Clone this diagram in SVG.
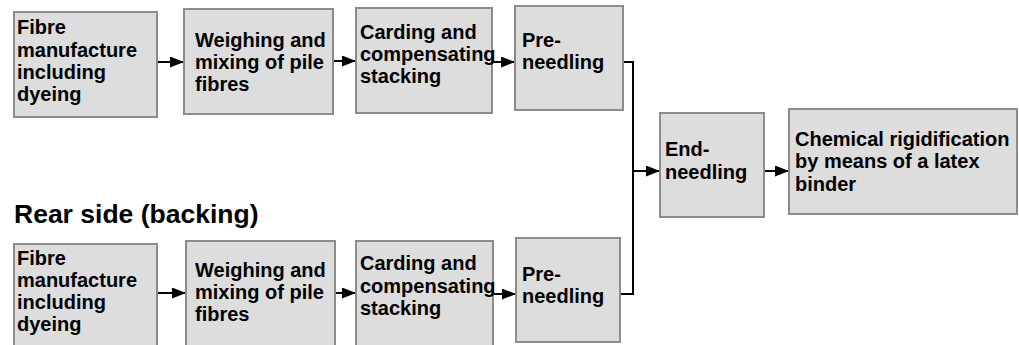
<svg xmlns="http://www.w3.org/2000/svg" width="1019" height="345" viewBox="0 0 1019 345">
<defs>
<style>
.box{fill:#dddddd;stroke:#8c8c8c;stroke-width:2}
.t{font-family:"Liberation Sans",Arial,sans-serif;font-weight:bold;font-size:20px;fill:#000}
.h{font-family:"Liberation Sans",Arial,sans-serif;font-weight:bold;font-size:26.5px;fill:#000}
.c{stroke:#000;stroke-width:2;fill:none}
</style>
<marker id="ah" viewBox="0 0 14 11" refX="14" refY="5.5" markerWidth="14" markerHeight="11" markerUnits="userSpaceOnUse" orient="auto">
<path d="M0,0 L14,5.5 L0,11 z" fill="#000"/>
</marker>
</defs>
<rect width="1019" height="345" fill="#fff"/>
<g id="connectors">
<line class="c" x1="157" y1="62" x2="184" y2="62" marker-end="url(#ah)"/>
<line class="c" x1="333" y1="61" x2="356" y2="61" marker-end="url(#ah)"/>
<line class="c" x1="492" y1="62" x2="515" y2="62" marker-end="url(#ah)"/>
<polyline class="c" points="623,62 633,62 633,294 620,294"/>
<line class="c" x1="633" y1="171" x2="660" y2="171" marker-end="url(#ah)"/>
<line class="c" x1="764" y1="171" x2="789" y2="171" marker-end="url(#ah)"/>
<line class="c" x1="157" y1="293" x2="186" y2="293" marker-end="url(#ah)"/>
<line class="c" x1="335" y1="293" x2="356" y2="293" marker-end="url(#ah)"/>
<line class="c" x1="493" y1="294" x2="516" y2="294" marker-end="url(#ah)"/>
</g>
<g id="top1"><rect class="box" x="14" y="12" width="143" height="105"/>
<text class="t" x="17" y="34">Fibre</text><text class="t" x="17" y="57">manufacture</text><text class="t" x="17" y="79">including</text><text class="t" x="17" y="101">dyeing</text></g>
<g id="top2"><rect class="box" x="184" y="9" width="149" height="105"/>
<text class="t" x="195" y="47">Weighing and</text><text class="t" x="195" y="69">mixing of pile</text><text class="t" x="195" y="91">fibres</text></g>
<g id="top3"><rect class="box" x="356" y="8" width="136" height="105"/>
<text class="t" x="360" y="39">Carding and</text><text class="t" x="360" y="61">compensating</text><text class="t" x="360" y="83">stacking</text></g>
<g id="top4"><rect class="box" x="515" y="6" width="108" height="104"/>
<text class="t" x="522" y="47">Pre-</text><text class="t" x="522" y="69">needling</text></g>
<g id="end"><rect class="box" x="660" y="113" width="104" height="104"/>
<text class="t" x="665" y="156">End-</text><text class="t" x="665" y="179">needling</text></g>
<g id="chem"><rect class="box" x="789" y="109" width="228" height="105"/>
<text class="t" x="795" y="146">Chemical rigidification</text><text class="t" x="795" y="168">by means of a latex</text><text class="t" x="795" y="191">binder</text></g>
<g id="title"><text class="h" x="14" y="223">Rear side (backing)</text></g>
<g id="bot1"><rect class="box" x="14" y="244" width="143" height="110"/>
<text class="t" x="17" y="265">Fibre</text><text class="t" x="17" y="287">manufacture</text><text class="t" x="17" y="309">including</text><text class="t" x="17" y="331">dyeing</text></g>
<g id="bot2"><rect class="box" x="186" y="241" width="149" height="110"/>
<text class="t" x="195" y="277">Weighing and</text><text class="t" x="195" y="299">mixing of pile</text><text class="t" x="195" y="321">fibres</text></g>
<g id="bot3"><rect class="box" x="356" y="241" width="137" height="110"/>
<text class="t" x="360" y="270">Carding and</text><text class="t" x="360" y="293">compensating</text><text class="t" x="360" y="315">stacking</text></g>
<g id="bot4"><rect class="box" x="516" y="238" width="104" height="104"/>
<text class="t" x="522" y="281">Pre-</text><text class="t" x="522" y="303">needling</text></g>
</svg>
